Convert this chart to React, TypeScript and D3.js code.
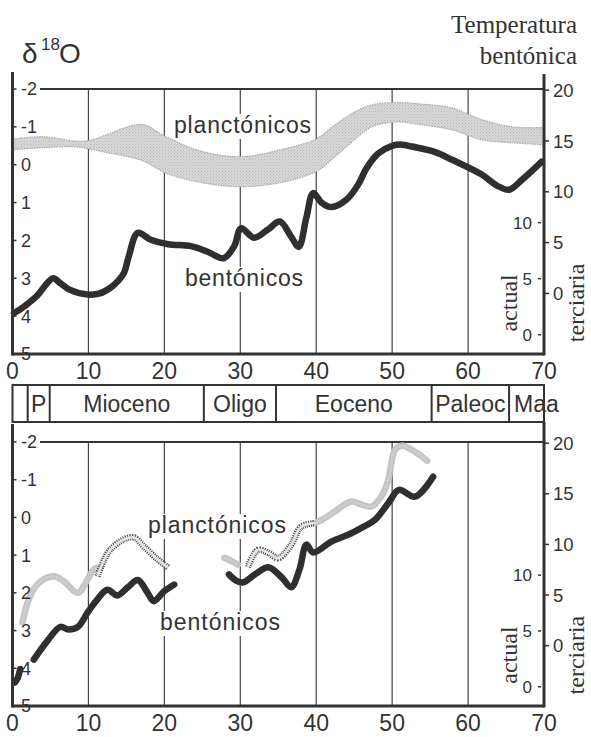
import React from "react";
import * as d3 from "d3";

// ---------- data ----------
const ageTicks = [0, 10, 20, 30, 40, 50, 60, 70];
const gridAges = [10, 20, 30, 40, 50, 60];
const d18OTicks = [-2, -1, 0, 1, 2, 3, 4, 5];
const tempTertiaryTicks = [0, 5, 10, 15, 20];
const tempActualTicks = [0, 5, 10];

// calibration: temperature -> δ18O position on the axis
const tertiaryCalT = [20, 0];
const tertiaryCalD = [-1.97, 3.4];
const actualCalT = [10, 0];
const actualCalD = [1.53, 4.49];

const epochNames = ["", "P", "Mioceno", "Oligo", "Eoceno", "Paleoc", "Maa"];
const epochBounds = [0, 2.0, 4.9, 25.2, 34.7, 55.2, 65.4, 70.0];

// top panel: smoothed benthic curve [age Ma, δ18O]
const topBenthic: [number, number][] = [
  [0.2, 3.92], [1.7, 3.72], [3.3, 3.45], [4.6, 3.12], [5.4, 3.0], [6.3, 3.13],
  [7.5, 3.3], [9.9, 3.43], [11.5, 3.4], [12.9, 3.25], [14.0, 3.05], [14.7, 2.85],
  [15.3, 2.43], [16.5, 1.8], [18.2, 1.98], [20.5, 2.1], [23.5, 2.15], [25.7, 2.3],
  [27.8, 2.47], [29.2, 2.15], [30.1, 1.68], [31.8, 1.93], [33.6, 1.72], [35.2, 1.5],
  [36.7, 1.9], [37.7, 2.17], [38.7, 1.4], [39.6, 0.75], [40.7, 1.0], [42.0, 1.12],
  [44.0, 0.92], [45.6, 0.5], [46.6, 0.1], [48.2, -0.3], [50.0, -0.5], [51.3, -0.53],
  [52.6, -0.48], [55.6, -0.34], [57.9, -0.13], [61.8, 0.26], [63.8, 0.55], [65.4, 0.66],
  [67.1, 0.4], [69.7, -0.08],
];

// top panel: planktonic band
const topPlankAge = [0.2, 4.0, 8.5, 10.5, 12.5, 15.0, 17.2, 20.2, 24.8, 30.1, 35.4, 40.0, 42.0, 44.6, 47.3, 50.6, 54.0, 57.9, 61.8, 65.8, 69.8];
const topPlankLow = [-0.68, -0.74, -0.62, -0.66, -0.8, -0.99, -1.06, -0.74, -0.36, -0.21, -0.4, -0.68, -0.98, -1.34, -1.58, -1.64, -1.6, -1.5, -1.19, -1.0, -0.98];
const topPlankHigh = [-0.4, -0.45, -0.47, -0.4, -0.32, -0.22, -0.1, 0.22, 0.47, 0.58, 0.47, 0.18, -0.13, -0.58, -1.0, -1.13, -1.05, -0.92, -0.66, -0.58, -0.53];

// bottom panel: benthic segments
const bottomBenthic: [number, number][][] = [
  [[0.3, 4.38], [0.7, 4.25], [1.0, 4.02]],
  [[2.8, 3.77], [4.5, 3.3], [6.3, 2.9], [7.3, 2.97], [8.6, 2.9], [9.9, 2.52], [11.0, 2.22],
   [12.5, 1.92], [13.8, 2.07], [15.2, 1.85], [16.5, 1.66], [17.8, 2.0], [18.6, 2.22],
   [19.9, 1.97], [21.3, 1.78]],
  [[28.5, 1.51], [29.5, 1.68], [30.4, 1.72], [32.0, 1.5], [33.7, 1.32], [35.5, 1.6],
   [36.7, 1.85], [37.8, 1.38], [38.7, 0.72], [39.6, 0.93], [42.0, 0.64], [44.2, 0.46],
   [46.2, 0.25], [47.7, 0.07], [49.5, -0.38], [50.9, -0.73], [53.0, -0.55], [55.4, -1.08]],
];

// bottom panel: planktonic segments (light = one source, dark = other)
const bottomPlankLight: [number, number][][] = [
  [[1.3, 2.78], [2.0, 2.25], [2.8, 1.9], [4.1, 1.64], [5.5, 1.56], [6.8, 1.7], [8.6, 2.0],
   [9.9, 1.64], [10.7, 1.38], [11.6, 1.33]],
  [[27.9, 1.07], [28.8, 1.15], [29.7, 1.25]],
  [[39.8, 0.15], [40.7, 0.07], [42.4, -0.15], [44.6, -0.42], [46.0, -0.34], [47.3, -0.29],
   [48.6, -0.56], [49.5, -1.0], [49.9, -1.45], [50.4, -1.8], [51.3, -1.9], [53.0, -1.74],
   [54.6, -1.5]],
];
const bottomPlankDark: [number, number][][] = [
  [[11.2, 1.56], [12.1, 1.11], [12.9, 0.85], [14.7, 0.58], [16.0, 0.53], [17.3, 0.77],
   [19.1, 1.11], [20.5, 1.33]],
  [[31.0, 1.32], [32.3, 0.86], [33.7, 0.94], [35.0, 1.08], [36.7, 0.73], [38.0, 0.25],
   [39.8, 0.15]],
];

// ---------- layout ----------
const W = 591;
const H = 737;
const SANS = "'Liberation Sans', Arial, Helvetica, sans-serif";
const SERIF = "'Liberation Serif', 'Times New Roman', serif";
const INK = "#333";

const x = d3.scaleLinear().domain([0, 70]).range([12.5, 544]);

const tertiaryToD = d3.scaleLinear().domain(tertiaryCalT).range(tertiaryCalD);
const actualToD = d3.scaleLinear().domain(actualCalT).range(actualCalD);

type Label = { text: string; x: number; y: number; w: number };

function LabelText({ l }: { l: Label }) {
  return (
    <g>
      <rect x={l.x - 2} y={l.y - 19} width={l.w + 4} height={25} fill="white" />
      <text x={l.x} y={l.y} fontFamily={SANS} fontSize={23} fill={INK}
        textLength={l.w} lengthAdjust="spacing">{l.text}</text>
    </g>
  );
}

function Panel(props: {
  yMin: number; yMax: number; axisTop: number; rightTop: number;
  children: React.ReactNode; labels: Label[]; tickY: number;
}) {
  const { yMin, yMax, axisTop, rightTop, labels, tickY } = props;
  const y = d3.scaleLinear().domain([-2, 5]).range([yMin, yMax]);
  const x0 = x(0);
  const x1 = x(70);
  return (
    <g>
      {gridAges.map((a) => (
        <line key={a} x1={x(a)} x2={x(a)} y1={y(-2)} y2={y(5)} stroke="#444" strokeWidth={1.2} />
      ))}
      <line x1={40} x2={x1} y1={y(-2)} y2={y(-2)} stroke={INK} strokeWidth={2} />
      {props.children}
      {labels.map((l) => <LabelText key={l.text} l={l} />)}
      {/* axes */}
      <line x1={x0} x2={x0} y1={axisTop} y2={y(5) + 1.5} stroke={INK} strokeWidth={3} />
      <line x1={x1} x2={x1} y1={rightTop} y2={y(5) + 1.5} stroke={INK} strokeWidth={3} />
      <line x1={x0} x2={x1} y1={y(5)} y2={y(5)} stroke={INK} strokeWidth={3} />
      {d18OTicks.map((t) => (
        <g key={t}>
          <line x1={x0} x2={x0 + 4} y1={y(t)} y2={y(t)} stroke={INK} strokeWidth={1.5} />
          <text x={21} y={y(t)} dy="0.36em" fontFamily={SANS} fontSize={18} fill={INK}>
            {t < 0 ? "-" + Math.abs(t) : String(t)}
          </text>
        </g>
      ))}
      {tempTertiaryTicks.map((t) => (
        <g key={"tt" + t}>
          <line x1={x1} x2={x1 + 5} y1={y(tertiaryToD(t))} y2={y(tertiaryToD(t))} stroke={INK} strokeWidth={1.5} />
          <text x={x1 + 9} y={y(tertiaryToD(t))} dy="0.36em" fontFamily={SANS} fontSize={18.5} fill={INK}>{t}</text>
        </g>
      ))}
      {tempActualTicks.map((t) => (
        <g key={"ta" + t}>
          <line x1={x1 - 6} x2={x1 - 3} y1={y(actualToD(t))} y2={y(actualToD(t))} stroke={INK} strokeWidth={1.5} />
          <text x={x1 - 12} y={y(actualToD(t))} dy="0.36em" textAnchor="end" fontFamily={SANS} fontSize={17} fill={INK}>{t}</text>
        </g>
      ))}
      <text transform={`translate(${x1 - 27},${y(3.65)}) rotate(-90)`} textAnchor="middle"
        fontFamily={SERIF} fontSize={24} fill={INK}>actual</text>
      <text transform={`translate(${x1 + 40},${y(3.65)}) rotate(-90)`} textAnchor="middle"
        fontFamily={SERIF} fontSize={24} fill={INK}>terciaria</text>
      {ageTicks.map((a) => (
        <text key={a} x={x(a)} y={tickY} textAnchor="middle" fontFamily={SANS} fontSize={23} fill={INK}>{a}</text>
      ))}
    </g>
  );
}

export default function App() {
  const yTop = d3.scaleLinear().domain([-2, 5]).range([89, 354]);
  const yBot = d3.scaleLinear().domain([-2, 5]).range([442, 706]);

  const lineTop = d3.line<[number, number]>()
    .x((d) => x(d[0])).y((d) => yTop(d[1])).curve(d3.curveCatmullRom.alpha(0.5));
  const lineBot = d3.line<[number, number]>()
    .x((d) => x(d[0])).y((d) => yBot(d[1])).curve(d3.curveCatmullRom.alpha(0.5));

  const bandIdx = topPlankAge.map((_, i) => i);
  const band = d3.area<number>()
    .x((i) => x(topPlankAge[i]))
    .y0((i) => yTop(topPlankHigh[i]))
    .y1((i) => yTop(topPlankLow[i]))
    .curve(d3.curveCatmullRom.alpha(0.5));
  const bandEdgeLow = d3.line<number>().x((i) => x(topPlankAge[i])).y((i) => yTop(topPlankLow[i])).curve(d3.curveCatmullRom.alpha(0.5));
  const bandEdgeHigh = d3.line<number>().x((i) => x(topPlankAge[i])).y((i) => yTop(topPlankHigh[i])).curve(d3.curveCatmullRom.alpha(0.5));

  const bandTop = 385;
  const bandBottom = 422;

  return (
    <svg width={W} height={H} style={{ position: "absolute", left: 0, top: 0, background: "white" }}>
      <defs>
        <pattern id="stip" width="3" height="3" patternUnits="userSpaceOnUse">
          <rect width="3" height="3" fill="#d8d8d8" />
          <rect x="0" y="0" width="1" height="1" fill="#b8b8b8" />
          <rect x="1.5" y="1.5" width="1" height="1" fill="#c0c0c0" />
        </pattern>
      </defs>

      {/* title */}
      <text x={22} y={63} fontFamily={SANS} fontSize={28} fill={INK}>δ</text>
      <text x={41} y={50} fontFamily={SANS} fontSize={17} fill={INK}>18</text>
      <text x={59} y={63} fontFamily={SANS} fontSize={28} fill={INK}>O</text>
      <text x={577} y={33} textAnchor="end" fontFamily={SERIF} fontSize={25} fill={INK}>Temperatura</text>
      <text x={577} y={64} textAnchor="end" fontFamily={SERIF} fontSize={25} fill={INK}>bentónica</text>

      {/* top panel */}
      <Panel yMin={89} yMax={354} axisTop={72} rightTop={74} tickY={379}
        labels={[
          { text: "planctónicos", x: 174, y: 133, w: 137 },
          { text: "bentónicos", x: 185, y: 286, w: 118 },
        ]}>
        <path d={band(bandIdx) || ""} fill="url(#stip)" />
        <path d={bandEdgeLow(bandIdx) || ""} fill="none" stroke="#a8a8a8" strokeWidth={1.2} strokeDasharray="1.5 1" />
        <path d={bandEdgeHigh(bandIdx) || ""} fill="none" stroke="#a8a8a8" strokeWidth={1.2} strokeDasharray="1.5 1" />
        <path d={lineTop(topBenthic) || ""} fill="none" stroke="#2f2f2f" strokeWidth={6.5}
          strokeLinejoin="round" strokeLinecap="round" />
      </Panel>

      {/* epoch band */}
      <rect x={x(0)} y={bandTop} width={x(70) - x(0)} height={bandBottom - bandTop}
        fill="white" stroke={INK} strokeWidth={2} />
      {epochBounds.slice(1, -1).map((b) => (
        <line key={b} x1={x(b)} x2={x(b)} y1={bandTop} y2={bandBottom} stroke={INK} strokeWidth={2} />
      ))}
      {epochNames.map((n, i) => {
        const last = i === epochNames.length - 1;
        const cx = last ? x(epochBounds[i]) + 5 : (x(epochBounds[i]) + x(epochBounds[i + 1])) / 2;
        return (
          <text key={i} x={cx} y={412} textAnchor={last ? "start" : "middle"}
            fontFamily={SANS} fontSize={23} fill={INK}>{n}</text>
        );
      })}

      {/* bottom panel */}
      <Panel yMin={442} yMax={706} axisTop={424} rightTop={422} tickY={731}
        labels={[
          { text: "planctónicos", x: 148, y: 533, w: 138 },
          { text: "bentónicos", x: 160, y: 630, w: 120 },
        ]}>
        {bottomPlankLight.map((s, i) => (
          <g key={"l" + i}>
            <path d={lineBot(s) || ""} fill="none" stroke="#c4c4c4" strokeWidth={6.5} strokeLinecap="round" strokeLinejoin="round" />
            <path d={lineBot(s) || ""} fill="none" stroke="#dadada" strokeWidth={2.5} strokeDasharray="1 1.5" />
          </g>
        ))}
        {bottomPlankDark.map((s, i) => (
          <g key={"d" + i}>
            <path d={lineBot(s) || ""} fill="none" stroke="#555" strokeWidth={6.5} strokeDasharray="1.2 1" strokeLinejoin="round" />
            <path d={lineBot(s) || ""} fill="none" stroke="#e4e4e4" strokeWidth={2.5} strokeLinejoin="round" />
          </g>
        ))}
        {bottomBenthic.map((s, i) => (
          <path key={"b" + i} d={lineBot(s) || ""} fill="none" stroke="#2f2f2f" strokeWidth={6.5}
            strokeLinejoin="round" strokeLinecap="round" />
        ))}
      </Panel>
    </svg>
  );
}
